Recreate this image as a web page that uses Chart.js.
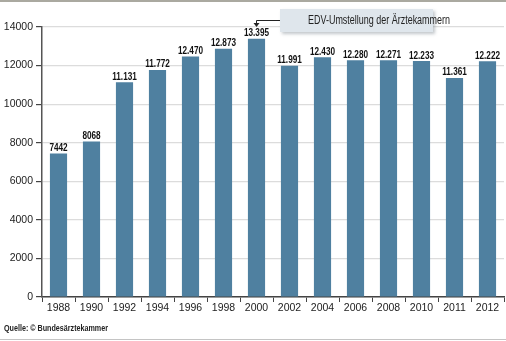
<!DOCTYPE html>
<html>
<head>
<meta charset="utf-8">
<script src="https://cdn.jsdelivr.net/npm/chart.js@4"></script>
<style>
    html, body { margin: 0; padding: 0; background: #fff; }
    .wrap { position: relative; width: 506px; height: 341px; overflow: hidden; }
    .wrap canvas { position: absolute; left: 0; top: 0; }
    .note {
        position: absolute; left: 280px; top: 9px; width: 153px; height: 23px;
        background: #dfe6ec; box-shadow: 2px 2px 3px rgba(120,130,140,0.45);
        font: 12.5px "Liberation Sans", Arial, sans-serif; color: #222;
        line-height: 23px; text-align: center; white-space: nowrap;
    }
    .note span, .source span { display: inline-block; }
    .note span { transform-origin: center center; }
    .source {
        position: absolute; left: 4px; top: 322px; white-space: nowrap;
        font: bold 9.5px "Liberation Sans", Arial, sans-serif; color: #222;
    }
    .source span { transform-origin: left center; }
</style>
</head>
<body>
<div class="wrap">
    <canvas id="chart" width="506" height="341"></canvas>
    <div class="note"><span id="noteText">EDV-Umstellung der Ärztekammern</span></div>
    <div class="source"><span id="srcText">Quelle: © Bundesärztekammer</span></div>
</div>
<script>
// Data
const years = ['1988', '1990', '1992', '1994', '1996', '1998', '2000', '2002', '2004', '2006', '2008', '2010', '2011', '2012'];
const counts = [7442, 8068, 11131, 11772, 12470, 12873, 13395, 11991, 12430, 12280, 12271, 12233, 11361, 12222];
const yTicks = [0, 2000, 4000, 6000, 8000, 10000, 12000, 14000];
const noteIndex = 6; // 2000

// the original uses a condensed font, squeeze the html texts to their width
function squeeze(id, targetWidth) {
    const el = document.getElementById(id);
    const w = el.getBoundingClientRect().width;
    el.style.transform = `scaleX(${targetWidth / w})`;
}
squeeze('noteText', 142);
squeeze('srcText', 104);

// German style number: 11.131, but small ones without dot
function fmt(v) {
    if (v < 10000) return String(v);
    return String(v).replace(/\B(?=(\d{3})+(?!\d))/g, '.');
}

// Value labels + arrow + frame lines
const extras = {
    id: 'extras',
    afterDatasetsDraw(chart) {
        const ctx = chart.ctx;
        const meta = chart.getDatasetMeta(0);
        ctx.save();
        ctx.fillStyle = '#111';
        ctx.font = 'bold 10px "Liberation Sans", Arial, sans-serif';
        ctx.textAlign = 'center';
        ctx.textBaseline = 'alphabetic';
        meta.data.forEach((bar, i) => {
            ctx.save();
            ctx.translate(bar.x, bar.y - 2.5);
            ctx.scale(0.82, 1);
            ctx.fillText(fmt(counts[i]), 0, 0);
            ctx.restore();
        });

        // arrow from note box to the 2000 bar
        const bx = Math.round(meta.data[noteIndex].x - 1);
        ctx.strokeStyle = '#222';
        ctx.lineWidth = 1;
        ctx.beginPath();
        ctx.moveTo(280, 20.5);
        ctx.lineTo(bx + 0.5, 20.5);
        ctx.lineTo(bx + 0.5, 24);
        ctx.stroke();
        ctx.fillStyle = '#222';
        ctx.beginPath();
        ctx.moveTo(bx - 2.5, 23);
        ctx.lineTo(bx + 3.5, 23);
        ctx.lineTo(bx + 0.5, 27);
        ctx.closePath();
        ctx.fill();

        // frame lines
        ctx.fillStyle = '#aaa9a0';
        ctx.fillRect(0, 0, 506, 2);
        ctx.fillStyle = '#c4c4c4';
        ctx.fillRect(0, 339, 506, 1);
        ctx.restore();
    }
};

const ctx = document.getElementById('chart').getContext('2d');
const chart = new Chart(ctx, {
    type: 'bar',
    data: {
        labels: years,
        datasets: [{
            data: counts,
            backgroundColor: '#4f80a0',
            borderWidth: 0,
            barPercentage: 0.52,
            categoryPercentage: 1
        }]
    },
    options: {
        responsive: false,
        animation: false,
        events: [],
        layout: { padding: { left: 0, right: 2, top: 27, bottom: 24 } },
        plugins: { legend: { display: false }, tooltip: { enabled: false } },
        scales: {
            x: {
                grid: {
                    offset: true,
                    drawOnChartArea: false,
                    tickLength: 5,
                    tickColor: '#444',
                    tickWidth: 1
                },
                border: { color: '#444', width: 1.5 },
                ticks: {
                    color: '#222',
                    padding: 0,
                    maxRotation: 0,
                    autoSkip: false,
                    font: { family: '"Liberation Sans", Arial, sans-serif', size: 10.5 }
                },
                afterFit(scale) {
                    scale.height = 20;
                    scale.paddingLeft = 0;
                    scale.paddingRight = 0;
                }
            },
            y: {
                min: 0,
                max: 14000,
                afterBuildTicks(scale) {
                    scale.ticks = yTicks.map(v => ({ value: v }));
                },
                grid: {
                    color: '#dcdcdc',
                    lineWidth: 1.2,
                    tickLength: 6,
                    tickColor: '#444'
                },
                border: { color: '#555', width: 1.5 },
                ticks: {
                    color: '#222',
                    padding: 3,
                    font: { family: '"Liberation Sans", Arial, sans-serif', size: 10.5 },
                    callback: (v) => String(v)
                },
                afterFit(scale) {
                    scale.width = 42;
                    scale.paddingTop = 0;
                    scale.paddingBottom = 0;
                }
            }
        }
    },
    plugins: [extras]
});
</script>
</body>
</html>
